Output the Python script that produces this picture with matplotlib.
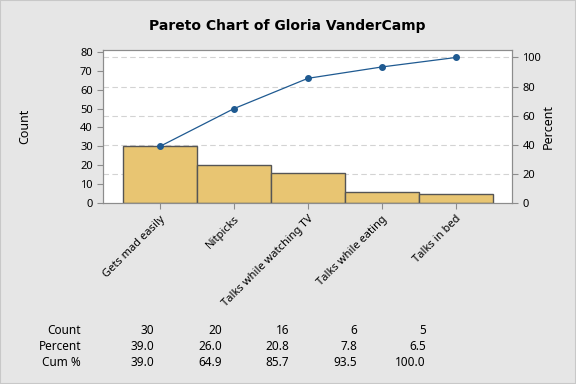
import numpy as np
import matplotlib.pyplot as plt

plt.rcParams['font.family'] = ['Noto Sans', 'DejaVu Sans']

categories = ["Gets mad easily", "Nitpicks", "Talks while watching TV",
              "Talks while eating", "Talks in bed"]
counts = [30, 20, 16, 6, 5]
percent = [39.0, 26.0, 20.8, 7.8, 6.5]
cum_pct = [39.0, 64.9, 85.7, 93.5, 100.0]

bg = "#e6e6e6"
fig = plt.figure(figsize=(5.76, 3.84), dpi=100, facecolor=bg)
ax = fig.add_axes([0.179, 0.471, 0.71, 0.399])
ax.set_facecolor("white")

x = np.arange(len(categories))
total = sum(counts)
top = 81
ax.set_ylim(0, top)
ax.set_xlim(-0.77, 4.76)

# percent gridlines, drawn behind the bars
for g in range(20, 101, 20):
    ax.axhline(g * total / 100, color="#d3d3d3", linestyle=(0, (5, 3)), linewidth=0.8, zorder=0)
ax.bar(x, counts, width=1.0, color="#e8c572", edgecolor="#555555", linewidth=1, zorder=2)
ax.set_yticks(range(0, 81, 10))
ax.set_xticks(x)
ax.set_xticklabels(categories, rotation=45, ha="right", rotation_mode="anchor", fontsize=8.3)

ax2 = ax.twinx()
ax2.set_ylim(0, top * 100 / total)
ax2.set_yticks(range(0, 101, 20))
ax2.plot(x, cum_pct, color="#1f5a91", marker="o", markersize=4, linewidth=0.9, zorder=3)

for a in (ax, ax2):
    for s in a.spines.values():
        s.set_color("#8c8c8c")
    a.tick_params(colors="#8c8c8c", labelcolor="black", labelsize=8, length=4)

fig.text(0.043, 0.67, "Count", rotation=90, ha="center", va="center", fontsize=9)
fig.text(0.951, 0.67, "Percent", rotation=90, ha="center", va="center", fontsize=9)
fig.text(0.498, 0.932, "Pareto Chart of Gloria VanderCamp", ha="center", va="center",
         fontsize=10, fontweight="bold", family="DejaVu Sans")

col_x = [154, 222, 289, 357, 426]
row_y = [331, 347, 362]
rows = [("Count", [str(c) for c in counts]),
        ("Percent", [f"{p:.1f}" for p in percent]),
        ("Cum %", [f"{p:.1f}" for p in cum_pct])]
for (name, vals), yy in zip(rows, row_y):
    fig.text(81 / 576, 1 - yy / 384, name, ha="right", va="center", fontsize=8.5)
    for cx, v in zip(col_x, vals):
        fig.text(cx / 576, 1 - yy / 384, v, ha="right", va="center", fontsize=8.5)

fig.patches.append(plt.Rectangle((0, 0), 1, 1, transform=fig.transFigure,
                                 fill=False, edgecolor="#c8c8c8", linewidth=1.5))
fig.savefig("out.png", dpi=100, facecolor=bg)
